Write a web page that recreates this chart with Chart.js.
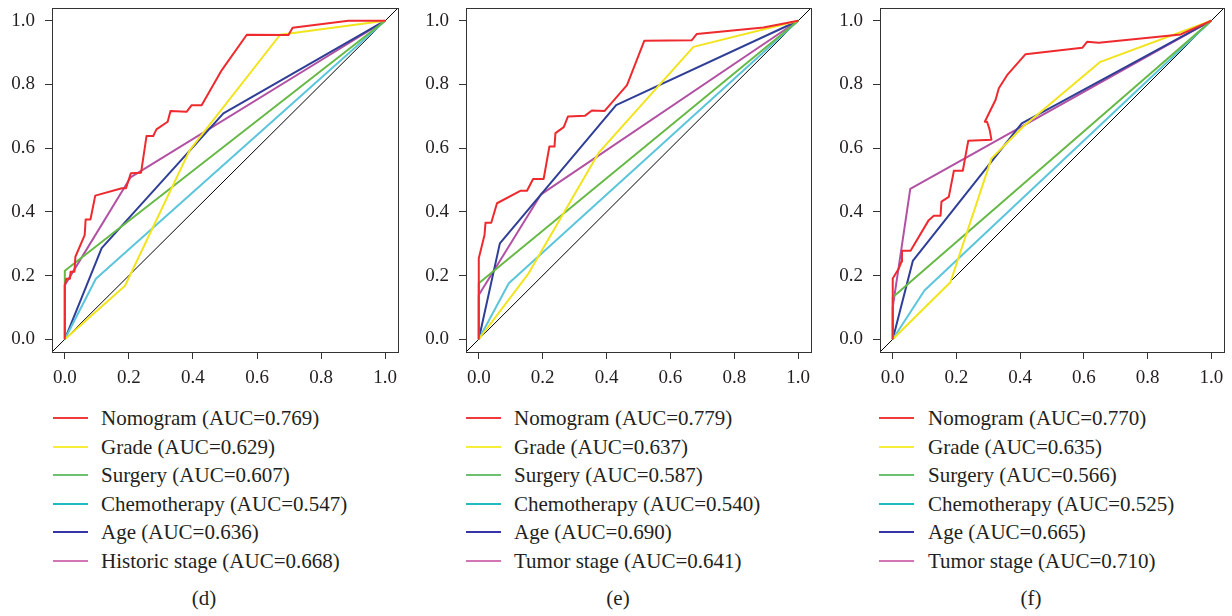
<!DOCTYPE html>
<html><head><meta charset="utf-8">
<script src="https://cdn.jsdelivr.net/npm/chart.js@4/dist/chart.umd.min.js"></script>
<style>
body{margin:0;width:1232px;height:616px;background:#fff;position:relative;overflow:hidden;font-family:"Liberation Serif","Times New Roman",serif;color:#231f20;}
canvas{position:absolute;top:0;}
.row{position:absolute;white-space:nowrap;height:28px;line-height:28px;font-size:21px;}
.sw{position:absolute;top:13px;height:2px;width:35px;}
.txt{position:absolute;top:0;}
.cap{position:absolute;font-size:21px;transform:translateX(-50%);white-space:nowrap;}
</style></head><body>
<script>
// ---------- data ----------
const tickValues = [0, 0.2, 0.4, 0.6, 0.8, 1.0];
const tickLabels = ['0.0', '0.2', '0.4', '0.6', '0.8', '1.0'];

const namesD = ['Nomogram', 'Grade', 'Surgery', 'Chemotherapy', 'Age', 'Historic stage'];
const namesE = ['Nomogram', 'Grade', 'Surgery', 'Chemotherapy', 'Age', 'Tumor stage'];
const namesF = ['Nomogram', 'Grade', 'Surgery', 'Chemotherapy', 'Age', 'Tumor stage'];
const aucD = ['0.769', '0.629', '0.607', '0.547', '0.636', '0.668'];
const aucE = ['0.779', '0.637', '0.587', '0.540', '0.690', '0.641'];
const aucF = ['0.770', '0.635', '0.566', '0.525', '0.665', '0.710'];
const captions = ['(d)', '(e)', '(f)'];

// panel (d): [1 - specificity, sensitivity]
const dNomogram = [[0,0],[0,0.17],[0.005,0.19],[0.016,0.19],[0.018,0.212],[0.03,0.212],[0.033,0.259],[0.062,0.327],[0.065,0.376],[0.08,0.376],[0.095,0.451],[0.178,0.474],[0.191,0.474],[0.206,0.521],[0.238,0.523],[0.255,0.638],[0.276,0.638],[0.286,0.659],[0.321,0.683],[0.33,0.717],[0.38,0.714],[0.396,0.735],[0.427,0.735],[0.49,0.845],[0.568,0.956],[0.698,0.955],[0.711,0.978],[0.885,1.0],[1,1]];
const dGrade = [[0,0],[0.188,0.168],[0.39,0.594],[0.672,0.956],[1,1]];
const dSurgery = [[0,0],[0,0.215],[1,1]];
const dChemo = [[0,0],[0.097,0.19],[1,1]];
const dAge = [[0,0],[0.115,0.286],[0.495,0.709],[1,1]];
const dStage = [[0,0],[0,0.17],[0.205,0.508],[1,1]];

// panel (e)
const eNomogram = [[0,0],[0,0.254],[0.018,0.327],[0.021,0.366],[0.039,0.366],[0.057,0.427],[0.13,0.466],[0.151,0.466],[0.17,0.503],[0.203,0.503],[0.221,0.605],[0.237,0.605],[0.24,0.647],[0.266,0.666],[0.279,0.699],[0.333,0.702],[0.354,0.718],[0.394,0.717],[0.464,0.798],[0.518,0.937],[0.667,0.939],[0.682,0.958],[0.891,0.979],[1,1]];
const eGrade = [[0,0],[0.156,0.207],[0.375,0.585],[0.672,0.918],[1,1]];
const eSurgery = [[0,0],[0,0.176],[1,1]];
const eChemo = [[0,0],[0.094,0.176],[1,1]];
const eAge = [[0,0],[0.066,0.301],[0.43,0.735],[1,1]];
const eStage = [[0,0],[0,0.139],[0.195,0.455],[1,1]];

// panel (f)
const fNomogram = [[0,0],[0,0.191],[0.019,0.222],[0.027,0.243],[0.029,0.278],[0.056,0.278],[0.113,0.374],[0.129,0.388],[0.15,0.388],[0.153,0.432],[0.176,0.447],[0.192,0.529],[0.22,0.529],[0.237,0.623],[0.31,0.626],[0.304,0.659],[0.296,0.683],[0.289,0.683],[0.323,0.752],[0.333,0.788],[0.359,0.829],[0.417,0.895],[0.595,0.915],[0.61,0.934],[0.647,0.931],[0.904,0.957],[1,1]];
const fGrade = [[0,0],[0.181,0.179],[0.31,0.568],[0.41,0.668],[0.65,0.87],[1,1]];
const fSurgery = [[0,0],[0,0.132],[1,1]];
const fChemo = [[0,0],[0.0995,0.153],[1,1]];
const fAge = [[0,0],[0.063,0.246],[0.405,0.678],[1,1]];
const fStage = [[0,0],[0,0.1],[0.055,0.472],[1,1]];

const refLine = [[-0.04,-0.04],[1.04,1.04]];

// ---------- styles ----------
const seriesColors = ['#EE2A2F', '#F2E41C', '#67B946', '#5BC5DB', '#2F3E96', '#B251A3'];
const legendColors = ['#EE3A3A', '#F5EE3A', '#6CC070', '#20BCC0', '#3535A5', '#D374B5'];

const panels = [
  { series: [dNomogram, dGrade, dSurgery, dChemo, dAge, dStage], names: namesD, auc: aucD, L: 52, R: 398, legX: 53, txtX: 101, capX: 204 },
  { series: [eNomogram, eGrade, eSurgery, eChemo, eAge, eStage], names: namesE, auc: aucE, L: 466, R: 811, legX: 466, txtX: 514, capX: 618 },
  { series: [fNomogram, fGrade, fSurgery, fChemo, fAge, fStage], names: namesF, auc: aucF, L: 880, R: 1224, legX: 879, txtX: 928, capX: 1031 }
];

const AXW = 52, AXH = 48, TOP = 8, BOTTOM = 352, PADR = 8;

const framePlugin = {
  id: 'frame',
  afterDatasetsDraw(chart) {
    const a = chart.chartArea, ctx = chart.ctx;
    ctx.save();
    ctx.strokeStyle = '#333';
    ctx.lineWidth = 1;
    ctx.strokeRect(Math.round(a.left) + 0.5, Math.round(a.top) + 0.5, Math.round(a.right - a.left), Math.round(a.bottom - a.top));
    ctx.restore();
  }
};

const toPts = arr => arr.map(p => ({ x: p[0], y: p[1] }));

panels.forEach((p, pi) => {
  const cv = document.createElement('canvas');
  const w = (p.R - p.L) + AXW + PADR;
  const h = BOTTOM + AXH;
  cv.width = w; cv.height = h;
  cv.style.left = (p.L - AXW) + 'px';
  cv.style.width = w + 'px'; cv.style.height = h + 'px';
  document.body.appendChild(cv);

  const datasets = p.series.map((s, i) => ({
    label: p.names[i],
    data: toPts(s),
    borderColor: seriesColors[i],
    borderWidth: 2,
    pointRadius: 0,
    tension: 0,
    fill: false,
    borderJoinStyle: 'round',
    order: i
  }));
  datasets.push({
    label: 'reference',
    data: toPts(refLine),
    borderColor: '#000',
    borderWidth: 1,
    pointRadius: 0,
    fill: false,
    order: 99
  });

  const tickFont = { family: '"Liberation Serif", serif', size: 19 };
  const common = {
    type: 'linear', min: -0.04, max: 1.04,
    afterBuildTicks: s => { s.ticks = tickValues.map(v => ({ value: v })); },
    grid: { display: true, drawOnChartArea: false, drawTicks: true, tickLength: 7, color: '#333', lineWidth: 1 },
    border: { display: true, color: '#333', width: 1 },
  };

  new Chart(cv, {
    type: 'line',
    data: { datasets },
    plugins: [framePlugin],
    options: {
      responsive: false,
      animation: false,
      devicePixelRatio: 1,
      layout: { padding: { left: 0, right: PADR, top: TOP, bottom: 0 } },
      plugins: { legend: { display: false }, tooltip: { enabled: false } },
      scales: {
        x: Object.assign({}, common, {
          position: 'bottom',
          afterFit: s => { s.height = AXH; s.paddingLeft = 0; s.paddingRight = 0; },
          ticks: { autoSkip: false, maxRotation: 0, padding: 8, color: '#231f20', font: tickFont,
                   callback: (v, i) => tickLabels[i] }
        }),
        y: Object.assign({}, common, {
          position: 'left',
          afterFit: s => { s.width = AXW; s.paddingTop = 0; s.paddingBottom = 0; },
          ticks: { autoSkip: false, padding: 10, color: '#231f20', font: tickFont,
                   callback: (v, i) => tickLabels[i] }
        })
      }
    }
  });

  // legend
  p.names.forEach((n, i) => {
    const row = document.createElement('div');
    row.className = 'row';
    row.style.left = '0px';
    row.style.top = (418.3 + 28.5 * i - 14) + 'px';
    const sw = document.createElement('div');
    sw.className = 'sw';
    sw.style.left = p.legX + 'px';
    sw.style.background = legendColors[i];
    const tx = document.createElement('div');
    tx.className = 'txt';
    tx.style.left = p.txtX + 'px';
    tx.textContent = n + ' (AUC=' + p.auc[i] + ')';
    row.appendChild(sw); row.appendChild(tx);
    document.body.appendChild(row);
  });
  const cap = document.createElement('div');
  cap.className = 'cap';
  cap.style.left = p.capX + 'px';
  cap.style.top = '586px';
  cap.textContent = captions[pi];
  document.body.appendChild(cap);
});
</script>
</body></html>
